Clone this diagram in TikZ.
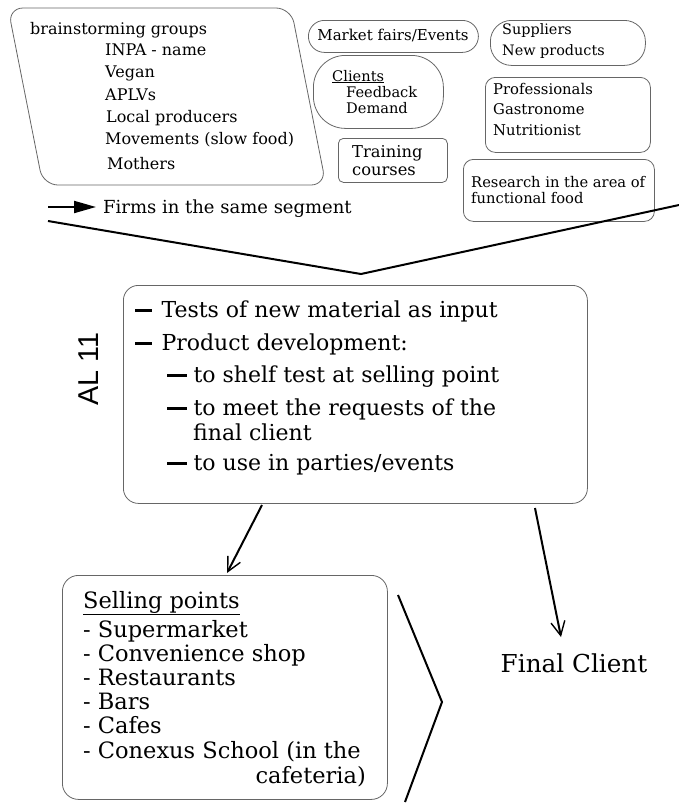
\documentclass[tikz,border=0pt]{standalone}
\usepackage{fontspec}
\setmainfont{DejaVu Serif}
\newfontfamily\labelsans{Liberation Sans}
\usetikzlibrary{arrows.meta}
\definecolor{boxgray}{HTML}{666666}
\newcommand\bdash[1]{\rule[0.22em]{#1}{0.13em}}
\begin{document}
\begin{tikzpicture}[x=1pt,y=-1pt,
  box/.style={draw=boxgray, line width=0.8pt, inner sep=0pt, anchor=north west},
  outline/.style={draw=boxgray, line width=0.8pt},
  txt/.style={inner sep=0pt, anchor=base west, text=black},
  small/.style={txt, font=\fontsize{15}{18}\selectfont},
  brain/.style={txt, font=\fontsize{16}{19}\selectfont},
  midtxt/.style={txt, font=\fontsize{22}{26}\selectfont},
  selltxt/.style={txt, font=\fontsize{22.5}{26}\selectfont},
  heavy/.style={line width=2pt, black},
  barb/.style={heavy, -{Straight Barb[length=14pt,width=14pt,line width=1.4pt]}},
  solidtip/.style={heavy, -{Triangle[length=22pt,width=12pt]}}]
\useasboundingbox (0,0) rectangle (679,804);

% brainstorming groups: slanted rounded frame
\draw[outline, rounded corners=15pt] (8,8) -- (291,8) -- (326,185) -- (43,185) -- cycle;
\node[brain] (bg)   at (30,34)  {brainstorming groups};
\node[brain] (inpa) at (105,55) {INPA - name};
\node[brain] (veg)  at (105,77) {Vegan};
\node[brain] (aplv) at (105,100) {APLVs};
\node[brain] (loc)  at (106,122) {Local producers};
\node[brain] (mov)  at (105,144) {Movements (slow food)};
\node[brain] (mot)  at (107,169) {Mothers};

% small sources round the top
\node[box, rounded corners=16pt, minimum width=170pt, minimum height=32pt] (fairs) at (308,20) {};
\node[small, anchor=center] (fairst) at (393,35) {Market fairs/Events};

\node[box, rounded corners=21pt, minimum width=155pt, minimum height=45pt] (supp) at (490,20) {};
\node[small, font=\fontsize{14.4}{17}\selectfont] (supp1) at (502,34) {Suppliers};
\node[small, font=\fontsize{14.4}{17}\selectfont] (supp2) at (502,55) {New products};

\node[box, rounded corners=32pt, minimum width=130pt, minimum height=73pt] (cli) at (313,55) {};
\node[small, font=\fontsize{14.6}{17}\selectfont] (cli1) at (332,81) {\underline{Clients}};
\node[small, font=\fontsize{14.6}{17}\selectfont] (cli2) at (346,97) {Feedback};
\node[small, font=\fontsize{14.6}{17}\selectfont] (cli3) at (346,113) {Demand};

\node[box, rounded corners=5pt, minimum width=109pt, minimum height=44pt] (train) at (338,138) {};
\node[small, font=\fontsize{16.3}{19}\selectfont] (train1) at (352,157) {Training};
\node[small, font=\fontsize{16.3}{19}\selectfont] (train2) at (352,175) {courses};

\node[box, rounded corners=10pt, minimum width=165pt, minimum height=75pt] (prof) at (485,77) {};
\node[small, font=\fontsize{14.8}{17}\selectfont] (prof1) at (493,94) {Professionals};
\node[small, font=\fontsize{14.8}{17}\selectfont] (prof2) at (493,114) {Gastronome};
\node[small, font=\fontsize{14.8}{17}\selectfont] (prof3) at (493,135) {Nutritionist};

\node[box, rounded corners=10pt, minimum width=191pt, minimum height=62pt] (res) at (463,159) {};
\node[small, font=\fontsize{14.7}{17}\selectfont] (res1) at (471,187) {Research in the area of};
\node[small, font=\fontsize{14.7}{17}\selectfont] (res2) at (471,203) {functional food};

% firms in the same segment
\node[txt, font=\fontsize{18}{21}\selectfont] (firms) at (103,213) {Firms in the same segment};
\coordinate (firmsfrom) at (48,207);
\coordinate (firmsto) at (96,207);
\draw[solidtip] (firmsfrom) -- (firmsto);

% funnel into the activities box
\coordinate (vleft) at (48,221);
\coordinate (vtip) at (361,274);
\coordinate (vright) at (679,205);
\draw[heavy] (vleft) -- (vtip) -- (vright);

% AL 11 activities
\node[box, rounded corners=15pt, minimum width=464pt, minimum height=218pt] (mid) at (123,285) {};
\node[inner sep=0pt, rotate=90, font=\labelsans\fontsize{28.7}{32}\selectfont] (al) at (89,369) {AL 11};
\node[midtxt] (m1) at (135,317) {\bdash{0.75em}\hspace{0.45em}Tests of new material as input};
\node[midtxt] (m2) at (135,350) {\bdash{0.75em}\hspace{0.45em}Product development:};
\node[midtxt] (m3) at (167,382) {\bdash{0.9em}\hspace{0.3em}to shelf test at selling point};
\node[midtxt] (m4) at (167,415) {\bdash{0.9em}\hspace{0.3em}to meet the requests of the};
\node[midtxt] (m4b) at (193,440) {final client};
\node[midtxt] (m5) at (167,470) {\bdash{0.9em}\hspace{0.3em}to use in parties/events};

% selling points
\node[box, rounded corners=16pt, minimum width=325pt, minimum height=224pt] (sell) at (62,575) {};
\node[selltxt] (s0) at (83,608) {\underline{Selling points}};
\node[selltxt] (s1) at (83,637) {- Supermarket};
\node[selltxt] (s2) at (83,661) {- Convenience shop};
\node[selltxt] (s3) at (83,685) {- Restaurants};
\node[selltxt] (s4) at (83,709) {- Bars};
\node[selltxt] (s5) at (83,733) {- Cafes};
\node[selltxt] (s6) at (83,758) {- Conexus School (in the};
\node[selltxt, anchor=base east] (s7) at (366,783) {cafeteria)};
\coordinate (brtop) at (398,595);
\coordinate (brtip) at (442,702);
\coordinate (brbot) at (405,802);
\draw[heavy] (brtop) -- (brtip) -- (brbot);

% final client
\node[inner sep=0pt, font=\fontsize{24.7}{28}\selectfont] (fc) at (574,663) {Final Client};

% flows out of the activities box
\coordinate (a1from) at (262,505);
\coordinate (a1to) at (227,573);
\draw[barb] (a1from) -- (a1to);
\coordinate (a2from) at (535,508);
\coordinate (a2to) at (561,637);
\draw[barb] (a2from) -- (a2to);
\end{tikzpicture}
\end{document}
